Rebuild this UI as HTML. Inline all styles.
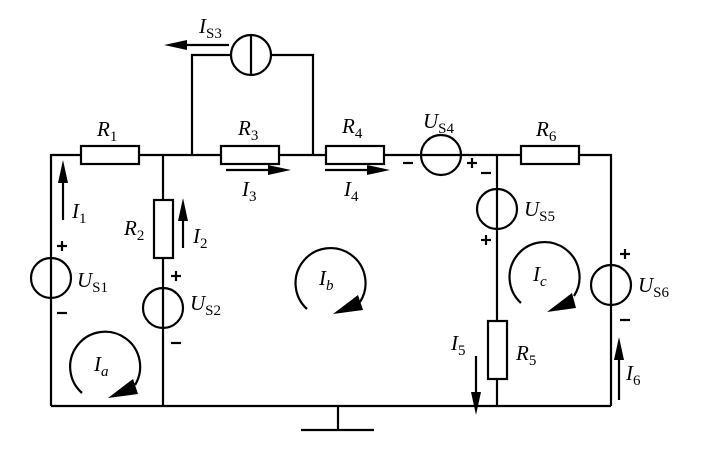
<!DOCTYPE html>
<html><head><meta charset="utf-8"><style>
html,body{margin:0;padding:0;background:#fff}
svg{display:block}
text{font-family:"Liberation Serif",serif;font-style:italic;font-size:21px;fill:#000}
tspan.s{font-style:normal;font-size:15px}
.p{font-family:"Liberation Sans",sans-serif;font-style:normal;font-weight:bold;font-size:17px}
</style></head><body>
<svg width="719" height="458" viewBox="0 0 719 458" xmlns="http://www.w3.org/2000/svg">
<g stroke="#000" stroke-width="2.2" fill="none">
<!-- wires -->
<polyline points="51,258 51,155 81,155"/>
<line x1="139" y1="155" x2="221" y2="155"/>
<line x1="279" y1="155" x2="326" y2="155"/>
<line x1="384" y1="155" x2="421" y2="155"/>
<line x1="461" y1="155" x2="521" y2="155"/>
<polyline points="579,155 611,155 611,265"/>
<line x1="51" y1="298" x2="51" y2="406"/>
<line x1="51" y1="406" x2="611" y2="406"/>
<line x1="611" y1="305" x2="611" y2="406"/>
<line x1="163" y1="155" x2="163" y2="200"/>
<line x1="163" y1="258" x2="163" y2="288"/>
<line x1="163" y1="328" x2="163" y2="406"/>
<line x1="497" y1="155" x2="497" y2="189"/>
<line x1="497" y1="229" x2="497" y2="321"/>
<line x1="497" y1="379" x2="497" y2="406"/>
<polyline points="192,155 192,55 231,55"/>
<polyline points="271,55 313,55 313,155"/>
<!-- ground -->
<line x1="338" y1="406" x2="338" y2="430"/>
<line x1="301" y1="430" x2="374" y2="430"/>
<!-- resistors -->
<rect x="81" y="146" width="58" height="18"/>
<rect x="221" y="146" width="58" height="18"/>
<rect x="326" y="146" width="58" height="18"/>
<rect x="521" y="146" width="58" height="18"/>
<rect x="154" y="200" width="19" height="58"/>
<rect x="488" y="321" width="19" height="58"/>
<!-- sources -->
<circle cx="251" cy="55" r="20"/><line x1="251" y1="35" x2="251" y2="75"/>
<circle cx="51" cy="278" r="20"/><line x1="51" y1="258" x2="51" y2="298"/>
<circle cx="163" cy="308" r="20"/><line x1="163" y1="288" x2="163" y2="328"/>
<circle cx="441" cy="155" r="20"/><line x1="421" y1="155" x2="461" y2="155"/>
<circle cx="497" cy="209" r="20"/><line x1="497" y1="189" x2="497" y2="229"/>
<circle cx="611" cy="285" r="20"/><line x1="611" y1="265" x2="611" y2="305"/>
<!-- current arrows -->
<line x1="63" y1="220" x2="63" y2="180"/>
<line x1="183" y1="248" x2="183" y2="218"/>
<line x1="226" y1="170" x2="270" y2="170"/>
<line x1="325" y1="170" x2="369" y2="170"/>
<line x1="476" y1="356" x2="476" y2="395"/>
<line x1="619" y1="400" x2="619" y2="358"/>
<line x1="229" y1="45" x2="185" y2="45"/>
<!-- loops -->
<path d="M82,393 A35,35 0 1 1 135,385"/>
<path d="M307,309 A35,35 0 1 1 360,302"/>
<path d="M521,303 A35,35 0 1 1 574,296"/>
</g>
<g fill="#000">
<polygon points="63,160 58,183 68,183"/>
<polygon points="183,198 178,221 188,221"/>
<polygon points="291,170 268,165 268,175"/>
<polygon points="390,170 367,165 367,175"/>
<polygon points="476,415 471,392 481,392"/>
<polygon points="619,337 614,360 624,360"/>
<polygon points="164,45 187,40 187,50"/>
<polygon points="108,398 133,379 138,394"/>
<polygon points="333,314 358,295 363,310"/>
<polygon points="547,312 572,293 576,308"/>
</g>
<text x="97" y="136">R<tspan class="s" dy="5">1</tspan></text>
<text x="238" y="135">R<tspan class="s" dy="5">3</tspan></text>
<text x="342" y="133">R<tspan class="s" dy="5">4</tspan></text>
<text x="536" y="136">R<tspan class="s" dy="5">6</tspan></text>
<text x="124" y="235">R<tspan class="s" dy="5">2</tspan></text>
<text x="516" y="360">R<tspan class="s" dy="5">5</tspan></text>
<text x="72" y="218">I<tspan class="s" dy="5">1</tspan></text>
<text x="193" y="243">I<tspan class="s" dy="5">2</tspan></text>
<text x="242" y="196">I<tspan class="s" dy="5">3</tspan></text>
<text x="344" y="196">I<tspan class="s" dy="5">4</tspan></text>
<text x="451" y="350">I<tspan class="s" dy="5">5</tspan></text>
<text x="626" y="380">I<tspan class="s" dy="5">6</tspan></text>
<text x="199" y="33">I<tspan class="s" dy="5">S3</tspan></text>
<text x="77" y="287">U<tspan class="s" dy="5">S1</tspan></text>
<text x="190" y="310">U<tspan class="s" dy="5">S2</tspan></text>
<text x="423" y="128">U<tspan class="s" dy="5">S4</tspan></text>
<text x="524" y="216">U<tspan class="s" dy="5">S5</tspan></text>
<text x="638" y="292">U<tspan class="s" dy="5">S6</tspan></text>
<text x="94" y="371">I<tspan class="s" dy="5" style="font-style:italic">a</tspan></text>
<text x="319" y="285">I<tspan class="s" dy="5" style="font-style:italic">b</tspan></text>
<text x="533" y="281">I<tspan class="s" dy="5" style="font-style:italic">c</tspan></text>
<g stroke="#000" stroke-width="2.2">
<line x1="57" y1="246" x2="67" y2="246"/><line x1="62" y1="241" x2="62" y2="251"/>
<line x1="57" y1="313" x2="67" y2="313"/>
<line x1="171" y1="276" x2="181" y2="276"/><line x1="176" y1="271" x2="176" y2="281"/>
<line x1="171" y1="343" x2="181" y2="343"/>
<line x1="403" y1="163" x2="413" y2="163"/>
<line x1="467" y1="163" x2="477" y2="163"/><line x1="472" y1="158" x2="472" y2="168"/>
<line x1="481" y1="173" x2="491" y2="173"/>
<line x1="481" y1="240" x2="491" y2="240"/><line x1="486" y1="235" x2="486" y2="245"/>
<line x1="620" y1="254" x2="630" y2="254"/><line x1="625" y1="249" x2="625" y2="259"/>
<line x1="620" y1="320" x2="630" y2="320"/>
</g>
</svg>
</body></html>
